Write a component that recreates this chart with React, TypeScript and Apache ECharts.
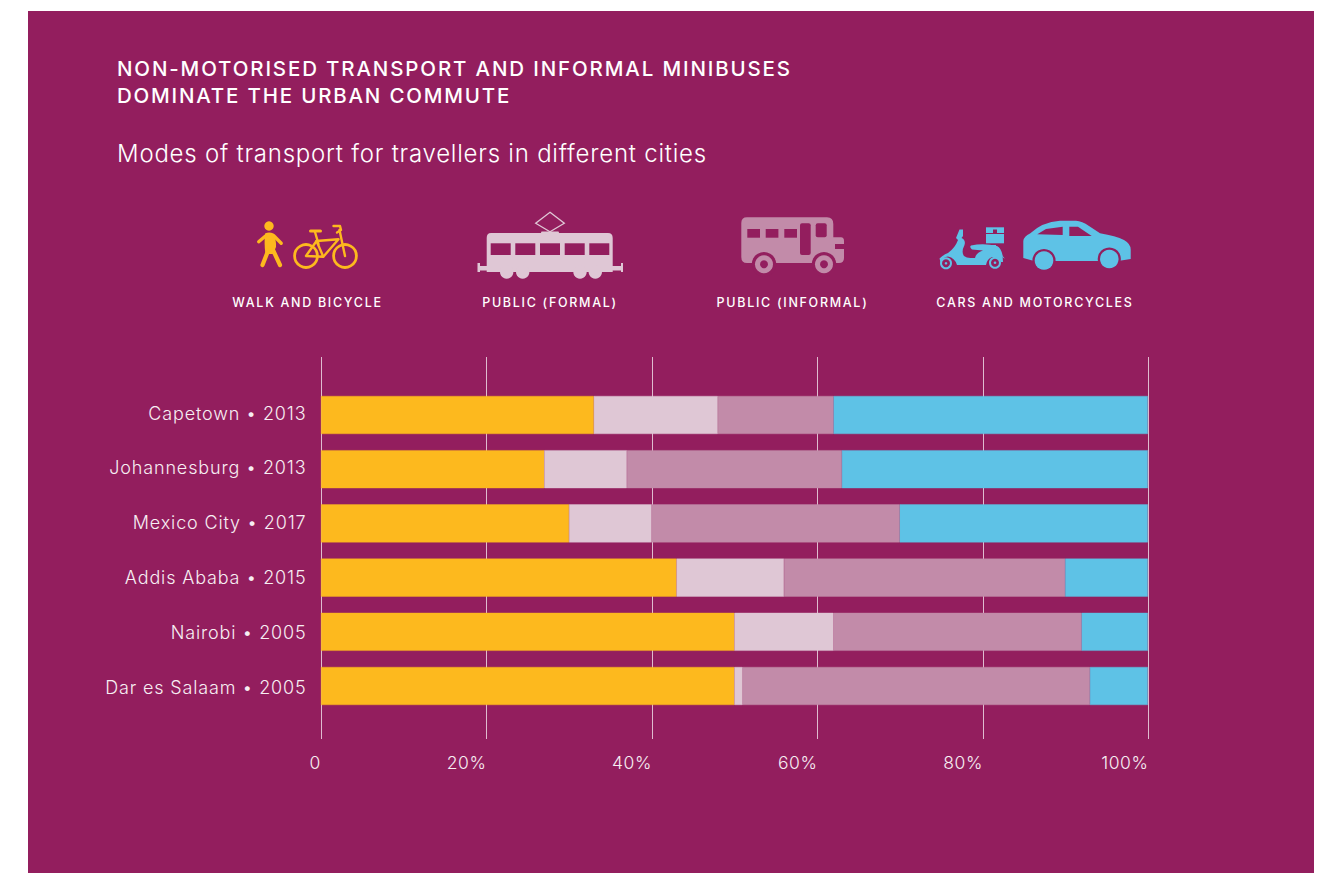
import React, { useEffect, useRef } from "react";
import * as echarts from "echarts";

const cities = ["Capetown • 2013", "Johannesburg • 2013", "Mexico City • 2017", "Addis Ababa • 2015", "Nairobi • 2005", "Dar es Salaam • 2005"];
const walkBicycle = [33, 27, 30, 43, 50, 50];
const publicFormal = [15, 10, 10, 13, 12, 1];
const publicInformal = [14, 26, 30, 34, 30, 42];
const carsMotorcycles = [38, 37, 30, 10, 8, 7];
const modeNames = ["WALK AND BICYCLE", "PUBLIC (FORMAL)", "PUBLIC (INFORMAL)", "CARS AND MOTORCYCLES"];
const ticks = [0, 20, 40, 60, 80, 100];
const titleLines = ["NON-MOTORISED TRANSPORT AND INFORMAL MINIBUSES", "DOMINATE THE URBAN COMMUTE"];
const subtitle = "Modes of transport for travellers in different cities";

const BG = "#931E5E", YEL = "#FDB91E", LIGHT = "#DFC7D5", MID = "#C28BA9", BLUE = "#5EC2E6";
const FONT = "Inter, 'Noto Sans', sans-serif";
const TEXT = "#F7EEF3";

echarts.graphic.registerShape("tramBody", echarts.graphic.extendPath("M491,233 H608 Q612.7,233 612.7,238 V266 H621 V263 H623 V272 H621 V270.5 H612.7 V272 H486.7 V270.5 H480 V272 H477.5 V263 H480 V266 H486.7 V238 Q486.7,233 491,233 Z", {}));
echarts.graphic.registerShape("busBody", echarts.graphic.extendPath("M747,217.3 H827 Q833.3,217.3 833.3,224 V237.3 H841 Q844,237.3 844,241 V244 H835 V249 H844 V258 Q844,263 839,263 H747 Q741.3,263 741.3,257 V223 Q741.3,217.3 747,217.3 Z", {}));
echarts.graphic.registerShape("carBody", echarts.graphic.extendPath("M1023.3,258 V241 Q1024,236 1030,233.5 Q1042,222 1060,220.7 H1076 Q1082,221 1089,226 L1100,233.3 Q1116,236 1124,240 Q1131,244 1130.7,250 V259 L1118,261 H1034 Z", {}));
echarts.graphic.registerShape("scooterBody", echarts.graphic.extendPath("M959.5,229.5 H963 V236 L961.5,238 Q966,240 964.5,245 Q961,252 964,256 Q967,258.5 972,258 L975,258 Q976,253 983,250.5 L972,249.5 Q969,247 971,245.5 Q984,243 997,246 Q1001,248 1002.5,255 L1003,262 H1001 Q998,256.5 992,257 Q987,259 986,265 H957 Q955,258 948,256.5 Q943,257 940.5,262 L939.5,258.5 Q943,255 948,253 Q955,248 958,240 L956,238 Z", {}));
echarts.graphic.registerShape("torso", echarts.graphic.extendPath("M265,233.5 Q269,231.5 273.5,233.5 Q276.5,241 276,247 L273,254 H265.5 Q264,245 265,233.5 Z", {}));

function stroke(color: string, w: number) {
  return { stroke: color, fill: "none", lineWidth: w, lineCap: "round", lineJoin: "round" };
}
function line(points: number[][], color: string, w: number) {
  return { type: "polyline", shape: { points }, style: stroke(color, w), silent: true };
}
function circle(cx: number, cy: number, r: number, fill: string) {
  return { type: "circle", shape: { cx, cy, r }, style: { fill }, silent: true };
}
function rect(x: number, y: number, width: number, height: number, fill: string, r = 0) {
  return { type: "rect", shape: { x, y, width, height, r }, style: { fill }, silent: true };
}
function ring(cx: number, cy: number, r: number, color: string, w: number) {
  return { type: "circle", shape: { cx, cy, r }, style: { fill: "none", stroke: color, lineWidth: w }, silent: true };
}
function txt(text: string, x: number, y: number, size: number, weight: number, align = "left") {
  return {
    type: "text",
    silent: true,
    style: { text, x, y, fill: "#fff", font: `${weight} ${size}px ${FONT}`, align, verticalAlign: "middle" },
  };
}

const walkIcon = [
  circle(269, 226, 4.7, YEL),
  { type: "torso", style: { fill: YEL }, silent: true },
  line([[258.7, 241.7], [265.5, 236]], YEL, 3.4),
  line([[273.5, 235.5], [281.2, 243.3]], YEL, 3.4),
  line([[268, 251], [262.5, 265]], YEL, 4.2),
  line([[273, 250], [280, 265]], YEL, 4.2),
  ring(306, 256, 11.4, YEL, 2.8),
  ring(345, 256, 11.4, YEL, 2.8),
  line([[306, 256], [316.5, 241], [323.3, 256.7], [306, 256]], YEL, 2.4),
  line([[316.5, 241], [338.5, 239.3], [323.3, 256.7]], YEL, 2.4),
  line([[315, 232], [318.5, 244]], YEL, 2.4),
  line([[310.5, 231], [320.5, 231]], YEL, 3),
  line([[345, 256], [339.5, 230]], YEL, 2.4),
  line([[333.5, 226], [340, 226], [341, 230], [337, 232.5]], YEL, 2.4),
];

const tramIcon = [
  { type: "tramBody", style: { fill: LIGHT }, silent: true },
  ...[490.7, 515.3, 540, 564.7, 589.3].map((x) => rect(x, 243.3, 20, 11.7, BG)),
  ...[506.7, 522.7, 580, 595.3].map((cx) => circle(cx, 272, 6.7, LIGHT)),
  rect(541, 231.5, 18, 3, LIGHT, 1),
  { type: "polygon", shape: { points: [[550, 212.3], [564.3, 223.3], [550, 231.7], [535.7, 223.3]] }, style: { fill: "none", stroke: LIGHT, lineWidth: 1.3 }, silent: true },
];

const busIcon = [
  { type: "busBody", style: { fill: MID }, silent: true },
  ...[747.3, 765.7, 784.3].map((x) => rect(x, 229, 12.7, 8.7, BG)),
  rect(800, 223.3, 10.7, 31.7, BG, 2),
  rect(815.7, 223.3, 11, 14, BG, 2),
  ...[764, 824].flatMap((cx) => [circle(cx, 264.3, 12.3, BG), circle(cx, 264.3, 9, MID), circle(cx, 264.3, 4, BG)]),
];

const scooterIcon = [
  { type: "scooterBody", style: { fill: BLUE }, silent: true },
  ring(946, 263.3, 5, BLUE, 2),
  circle(946, 263.3, 1.3, BLUE),
  ring(995, 262.7, 5, BLUE, 2),
  circle(995, 262.7, 1.3, BLUE),
  rect(986, 227.3, 18, 16, BLUE),
  rect(985.5, 233, 19, 1, BG),
  rect(993, 229.5, 4, 3.5, BG),
  rect(984, 245, 12, 1.5, BLUE),
  line([[997, 250], [1004, 258]], BLUE, 0.8),
];

const carIcon = [
  { type: "carBody", style: { fill: BLUE }, silent: true },
  { type: "polygon", shape: { points: [[1037.3, 234.3], [1046, 229], [1062.7, 226.7], [1062.7, 235]] }, style: { fill: BG }, silent: true },
  { type: "polygon", shape: { points: [[1069.3, 226.7], [1078, 226.7], [1091.7, 236], [1069.3, 236]] }, style: { fill: BG }, silent: true },
  circle(1044, 260.5, 11.6, BG),
  circle(1109.3, 259, 11.6, BG),
  rect(1020, 261, 114, 14, BG),
  circle(1044, 260.5, 9.3, BLUE),
  circle(1109.3, 259, 9.3, BLUE),
];

const tracking: Record<string, number> = {
  [titleLines[0]]: 1.85,
  [titleLines[1]]: 1.8,
  [subtitle]: 0.77,
  [modeNames[0]]: 1.7,
  [modeNames[1]]: 1.7,
  [modeNames[2]]: 1.7,
  [modeNames[3]]: 1.7,
  ...Object.fromEntries(cities.map((c) => [c, 0.85])),
  ...Object.fromEntries(ticks.map((t) => [t === 0 ? "0" : `${t}%`, 0.6])),
};

export default function App() {
  const ref = useRef<HTMLDivElement>(null);
  useEffect(() => {
    const chart = echarts.init(ref.current!, null, { renderer: "svg" });
    const seriesDefs: [string, number[], string][] = [
      ["Walk and bicycle", walkBicycle, YEL],
      ["Public (formal)", publicFormal, LIGHT],
      ["Public (informal)", publicInformal, MID],
      ["Cars and motorcycles", carsMotorcycles, BLUE],
    ];
    chart.setOption({
      animation: false,
      backgroundColor: "#fff",
      grid: [
        { left: 321, width: 827.5, top: 357, height: 382, show: false },
        { left: 321, width: 826.8, top: 387.9, height: 325.2, show: false },
        { left: 321, width: 827, top: 385.6, height: 328.8, show: false },
      ],
      xAxis: [
        {
          gridIndex: 0, type: "value", min: 0, max: 100, interval: 20,
          axisLine: { show: false }, axisTick: { show: false },
          splitLine: { show: true, lineStyle: { color: "rgba(255,255,255,0.7)", width: 1 } },
          axisLabel: {
            color: TEXT, fontFamily: FONT, fontWeight: 300, fontSize: 17.5, margin: 14, align: "right",
            customValues: ticks,
            formatter: (v: number) => (v === 0 ? "0" : `${v}%`),
          },
        },
        { gridIndex: 1, type: "value", min: 0, max: 100, show: false },
        { gridIndex: 2, type: "value", min: 0, max: 100, show: false },
      ],
      yAxis: [
        { gridIndex: 0, type: "value", show: false, min: 0, max: 1 },
        {
          gridIndex: 1, type: "category", inverse: true, data: cities,
          axisLine: { show: false }, axisTick: { show: false }, axisLabel: { show: false },
        },
        {
          gridIndex: 2, type: "category", inverse: true, data: cities,
          axisLine: { show: false }, axisTick: { show: false },
          axisLabel: { color: TEXT, fontFamily: FONT, fontWeight: 300, fontSize: 18, margin: 14.5 },
        },
      ],
      series: seriesDefs.map(([name, data, color]) => ({
        name, type: "bar", stack: "total", xAxisIndex: 1, yAxisIndex: 1, data,
        barWidth: 38, itemStyle: { color, borderColor: color, borderWidth: 0.4 }, silent: true, z: 3,
      })),
      graphic: [
        { ...rect(28, 11, 1286, 862, BG), z: -10 },
        ...[
          txt(titleLines[0], 117, 68, 20.5, 500),
          txt(titleLines[1], 117, 95, 20.5, 500),
          txt(subtitle, 117, 153, 24, 300),
          txt(modeNames[0], 307.5, 302.5, 12.5, 500, "center"),
          txt(modeNames[1], 550, 302.5, 12.5, 500, "center"),
          txt(modeNames[2], 792.5, 302.5, 12.5, 500, "center"),
          txt(modeNames[3], 1035, 302.5, 12.5, 500, "center"),
          ...walkIcon, ...tramIcon, ...busIcon, ...carIcon, ...scooterIcon,
        ].map((e) => ({ ...e, z: 5 })),
      ],
    });
    ref.current!.querySelectorAll("text").forEach((t) => {
      const s = tracking[t.textContent || ""];
      if (s) t.style.letterSpacing = `${s}px`;
    });
    return () => chart.dispose();
  }, []);
  return <div ref={ref} style={{ position: "absolute", left: 0, top: 0, width: 1329, height: 873 }} />;
}
